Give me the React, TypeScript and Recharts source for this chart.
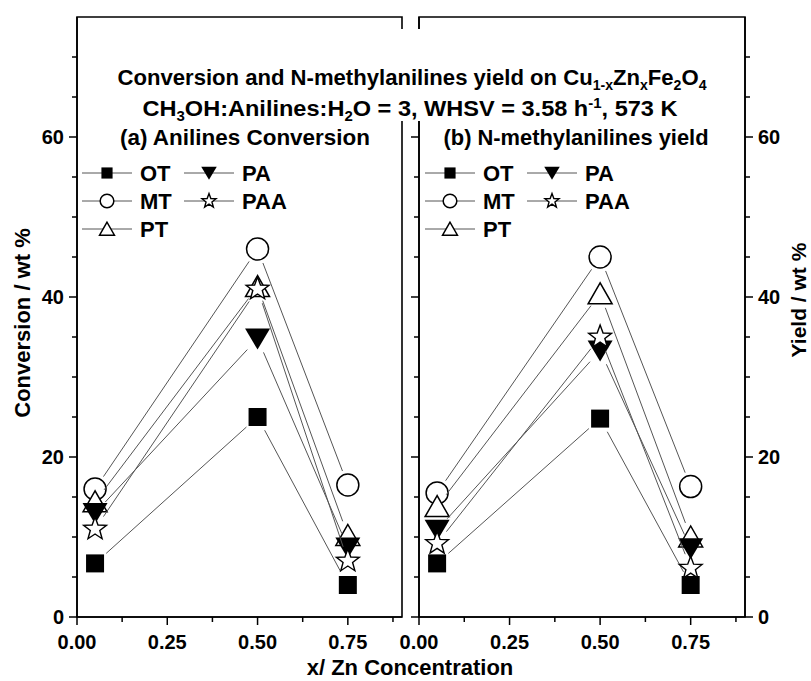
import React from "react";
import { LineChart, Line, XAxis, YAxis, ReferenceArea } from "recharts";

// Zn content x in Cu(1-x)Zn(x)Fe2O4
const zn = [0.05, 0.5, 0.75];
const seriesNames = ["OT", "MT", "PT", "PA", "PAA"];

// (a) anilines conversion, wt %
const convOT = [6.7, 25.0, 4.0];
const convMT = [16.0, 46.0, 16.5];
const convPT = [14.4, 41.3, 10.2];
const convPA = [13.0, 34.8, 8.7];
const convPAA = [11.0, 41.0, 7.0];

// (b) N-methylanilines yield, wt %
const yieldOT = [6.7, 24.8, 4.0];
const yieldMT = [15.5, 45.0, 16.3];
const yieldPT = [13.8, 40.4, 10.0];
const yieldPA = [10.9, 33.3, 8.6];
const yieldPAA = [9.2, 35.0, 6.1];

const xTicks = [0, 0.125, 0.25, 0.375, 0.5, 0.625, 0.75, 0.875];
const yTicks = [0, 5, 10, 15, 20, 25, 30, 35, 40, 45, 50, 55, 60, 65, 70];

const FONT = "'Liberation Sans', Arial, sans-serif";
const GAP = 15;

const buildRows = (cols: number[][]) =>
  zn.map((x, i) => {
    const row: any = { x };
    seriesNames.forEach((n, j) => (row[n] = cols[j][i]));
    return row;
  });

const rowsA = buildRows([convOT, convMT, convPT, convPA, convPAA]);
const rowsB = buildRows([yieldOT, yieldMT, yieldPT, yieldPA, yieldPAA]);

function starPoints(x: number, y: number, R: number, r: number) {
  const pts = [];
  for (let i = 0; i < 10; i++) {
    const a = -Math.PI / 2 + (i * Math.PI) / 5;
    const rad = i % 2 === 0 ? R : r;
    pts.push(`${x + rad * Math.cos(a)},${y + rad * Math.sin(a)}`);
  }
  return pts.join(" ");
}

const Marker = ({ kind, x, y, k }: { kind: string; x: number; y: number; k: number }) => {
  switch (kind) {
    case "OT": {
      const s = 18 * k;
      return <rect x={x - s / 2} y={y - s / 2} width={s} height={s} fill="#000" />;
    }
    case "MT":
      return <circle cx={x} cy={y} r={11 * k} fill="#fff" stroke="#000" strokeWidth={1.5} />;
    case "PT":
      return (
        <polygon
          points={`${x},${y - 11 * k} ${x - 12 * k},${y + 10 * k} ${x + 12 * k},${y + 10 * k}`}
          fill="#fff"
          stroke="#000"
          strokeWidth={1.5}
        />
      );
    case "PA":
      return (
        <polygon
          points={`${x - 12.5 * k},${y - 10 * k} ${x + 12.5 * k},${y - 10 * k} ${x},${y + 11 * k}`}
          fill="#000"
        />
      );
    default:
      return <polygon points={starPoints(x, y, 12 * k, 5 * k)} fill="#fff" stroke="#000" strokeWidth={1.4} />;
  }
};

// each dot draws its marker plus the segment to the next point, stopping short of both markers
const makeDot = (kind: string) => (props: any) => {
  const { cx, cy, index, points } = props;
  const next = points && points[index + 1];
  let seg = null;
  if (next) {
    const dx = next.x - cx;
    const dy = next.y - cy;
    const len = Math.hypot(dx, dy);
    const ux = dx / len;
    const uy = dy / len;
    seg = (
      <line
        x1={cx + ux * GAP}
        y1={cy + uy * GAP}
        x2={next.x - ux * GAP}
        y2={next.y - uy * GAP}
        stroke="#555"
        strokeWidth={1}
      />
    );
  }
  return (
    <g key={`${kind}-${index}`}>
      {seg}
      <Marker kind={kind} x={cx} y={cy} k={1} />
    </g>
  );
};

const XTick = (props: any) => {
  const { x, y, payload } = props;
  const v = payload.value;
  const major = Math.abs(v / 0.25 - Math.round(v / 0.25)) < 1e-6;
  return (
    <g>
      <line x1={x} y1={y} x2={x} y2={y + (major ? 8 : 5)} stroke="#000" strokeWidth={1.5} />
      {major && (
        <text x={x} y={y + 32} textAnchor="middle" fontFamily={FONT} fontWeight="bold" fontSize={20} fill="#000">
          {v.toFixed(2)}
        </text>
      )}
    </g>
  );
};

const makeYTick = (side: "left" | "right", labels: boolean) => (props: any) => {
  const { x, y, payload } = props;
  const v = payload.value;
  const major = v % 20 === 0;
  const dir = side === "left" ? -1 : 1;
  return (
    <g>
      <line x1={x} y1={y} x2={x + dir * (major ? 8 : 5)} y2={y} stroke="#000" strokeWidth={1.5} />
      {labels && major && (
        <text
          x={x + dir * 13}
          y={y + 7}
          textAnchor={side === "left" ? "end" : "start"}
          fontFamily={FONT}
          fontWeight="bold"
          fontSize={20}
          fill="#000"
        >
          {v}
        </text>
      )}
    </g>
  );
};

const axisLine = { stroke: "#000", strokeWidth: 1.6 };

const Panel = ({ rows, right }: { rows: any[]; right: boolean }) => (
  <LineChart
    width={811}
    height={681}
    data={rows}
    margin={right ? { top: 17, right: 0, bottom: 34, left: 400 } : { top: 17, right: 409, bottom: 34, left: 0 }}
  >
    <XAxis
      type="number"
      dataKey="x"
      domain={[0, 0.9]}
      ticks={xTicks}
      interval={0}
      height={30}
      tickSize={0}
      tickMargin={0}
      tickLine={false}
      axisLine={axisLine}
      tick={XTick}
    />
    <YAxis
      yAxisId="l"
      type="number"
      domain={[0, 75]}
      ticks={yTicks}
      interval={0}
      width={right ? 19 : 77}
      tickSize={0}
      tickMargin={0}
      tickLine={false}
      axisLine={axisLine}
      tick={makeYTick("left", !right)}
    />
    {right && (
      <YAxis
        yAxisId="r"
        orientation="right"
        type="number"
        domain={[0, 75]}
        ticks={yTicks}
        interval={0}
        width={66}
        tickSize={0}
        tickMargin={0}
        tickLine={false}
        axisLine={axisLine}
        tick={makeYTick("right", true)}
      />
    )}
    <ReferenceArea yAxisId="l" x1={0} x2={0.9} y1={0} y2={75} fill="none" stroke="#000" strokeWidth={1.6} />
    {right && (
      <Line yAxisId="r" dataKey="OT" stroke="none" dot={false} activeDot={false} isAnimationActive={false} />
    )}
    {seriesNames.map((n) => (
      <Line
        key={n}
        yAxisId="l"
        dataKey={n}
        stroke="none"
        isAnimationActive={false}
        activeDot={false}
        dot={makeDot(n)}
      />
    ))}
  </LineChart>
);

const legendRows = [
  ["OT", "PA"],
  ["MT", "PAA"],
  ["PT"],
];

const LegendBox = ({ x0 }: { x0: number }) => (
  <g>
    {legendRows.map((row, r) =>
      row.map((n, c) => {
        const lx = x0 + c * 102;
        const ly = 173 + r * 28;
        return (
          <g key={n}>
            <line x1={lx} y1={ly} x2={lx + 50} y2={ly} stroke="#555" strokeWidth={1} />
            <Marker kind={n} x={lx + 25} y={ly} k={0.62} />
            <text x={lx + 58} y={ly + 8} fontFamily={FONT} fontWeight="bold" fontSize={22} fill="#000">
              {n}
            </text>
          </g>
        );
      })
    )}
  </g>
);

const txt = { fontFamily: FONT, fontWeight: "bold" as const, fill: "#000" };

export default function App() {
  return (
    <div style={{ position: "absolute", left: 0, top: 0, width: 811, height: 681, background: "#fff" }}>
      <div style={{ position: "absolute", left: 0, top: 0 }}>
        <Panel rows={rowsA} right={false} />
      </div>
      <div style={{ position: "absolute", left: 0, top: 0 }}>
        <Panel rows={rowsB} right={true} />
      </div>
      <svg width={811} height={681} style={{ position: "absolute", left: 0, top: 0 }}>
        {/* white box behind the heading, breaking the panel borders */}
        <rect x={105} y={29} width={615} height={92} fill="#fff" />
        <text x={412} y={85} textAnchor="middle" fontSize={22} textLength={589} lengthAdjust="spacingAndGlyphs" {...txt}>
          <tspan>Conversion and N-methylanilines yield on Cu</tspan>
          <tspan dy={5} fontSize={14}>1-x</tspan>
          <tspan dy={-5}>Zn</tspan>
          <tspan dy={5} fontSize={14}>x</tspan>
          <tspan dy={-5}>Fe</tspan>
          <tspan dy={5} fontSize={14}>2</tspan>
          <tspan dy={-5}>O</tspan>
          <tspan dy={5} fontSize={14}>4</tspan>
        </text>
        <text x={410} y={116} textAnchor="middle" fontSize={22} textLength={535} lengthAdjust="spacingAndGlyphs" {...txt}>
          <tspan>CH</tspan>
          <tspan dy={5} fontSize={14}>3</tspan>
          <tspan dy={-5}>OH:Anilines:H</tspan>
          <tspan dy={5} fontSize={14}>2</tspan>
          <tspan dy={-5}>O = 3, WHSV = 3.58 h</tspan>
          <tspan dy={-8} fontSize={14}>-1</tspan>
          <tspan dy={8}>, 573 K</tspan>
        </text>
        <text x={245} y={145} textAnchor="middle" fontSize={22} textLength={250} lengthAdjust="spacingAndGlyphs" {...txt}>
          (a) Anilines Conversion
        </text>
        <text x={576} y={145} textAnchor="middle" fontSize={22} textLength={265} lengthAdjust="spacingAndGlyphs" {...txt}>
          (b) N-methylanilines yield
        </text>
        <LegendBox x0={82} />
        <LegendBox x0={425} />
        <text transform="translate(30,323) rotate(-90)" textAnchor="middle" fontSize={22} {...txt}>
          Conversion / wt %
        </text>
        <text transform="translate(806,300) rotate(-90)" textAnchor="middle" fontSize={21} {...txt}>
          Yield / wt %
        </text>
        <text x={410} y={675} textAnchor="middle" fontSize={22} {...txt}>
          x/ Zn Concentration
        </text>
      </svg>
    </div>
  );
}
